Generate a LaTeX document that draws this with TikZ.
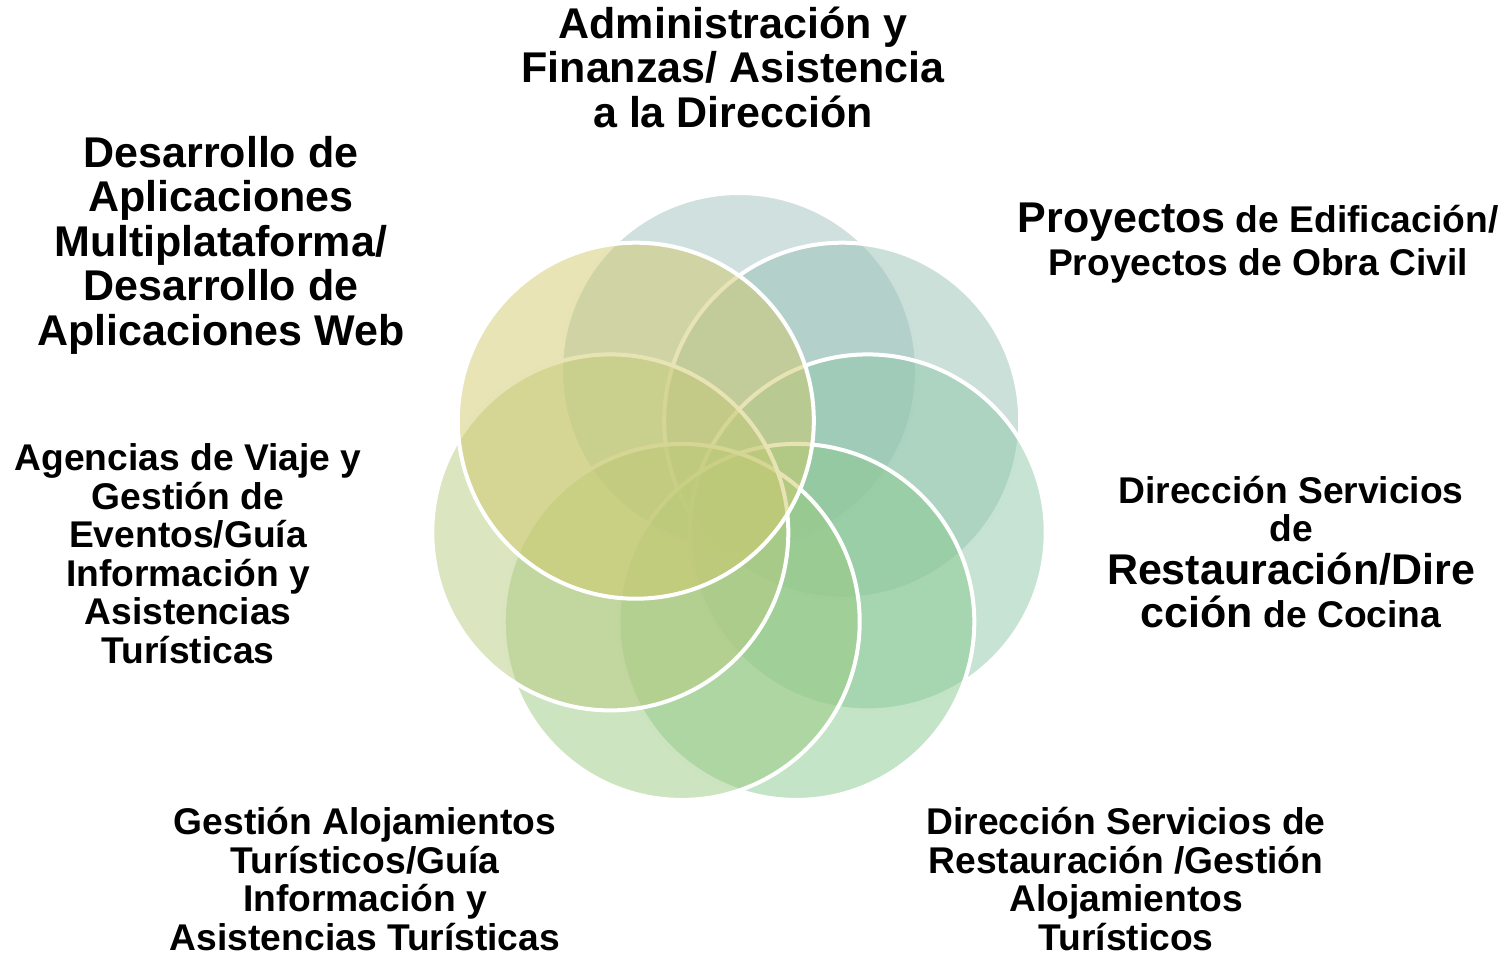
\documentclass[tikz,border=0pt]{standalone}
\usepackage{fontspec}
\setmainfont{Liberation Sans}

\definecolor{ring0}{HTML}{A1C1BF}
\definecolor{ring1}{HTML}{99C1B5}
\definecolor{ring2}{HTML}{8FC7A9}
\definecolor{ring3}{HTML}{87C98D}
\definecolor{ring4}{HTML}{9BC981}
\definecolor{ring5}{HTML}{B7CB7F}
\definecolor{ring6}{HTML}{D1C96B}

\tikzset{
    petal/.style={circle, minimum size=356pt, inner sep=0pt, draw=white, line width=4pt, fill opacity=0.5},
    bigtext/.style={align=center, font=\bfseries\fontsize{43}{44.5}\selectfont},
    smalltext/.style={align=center, font=\bfseries\fontsize{37.2}{38.5}\selectfont}
}
\newcommand{\bigword}[1]{{\fontsize{43}{44.5}\selectfont #1}}

\begin{document}
\begin{tikzpicture}[x=1pt, y=-1pt]
        \useasboundingbox (0, 0) rectangle (1503, 958);

        \node[petal, fill=ring0] (0) at (739, 371) {};
        \node[petal, fill=ring1] (1) at (842.2, 420.7) {};
        \node[petal, fill=ring2] (2) at (867.7, 532.4) {};
        \node[petal, fill=ring3] (3) at (796.3, 621.9) {};
        \node[petal, fill=ring4] (4) at (681.7, 621.9) {};
        \node[petal, fill=ring5] (5) at (610.3, 532.4) {};
        \node[petal, fill=ring6] (6) at (635.8, 420.7) {};

        \node[bigtext] (l0) at (733, 67) {Administración y\\Finanzas/ Asistencia\\a la Dirección};
        \node[smalltext] (l1) at (1258, 243.5) {\bigword{Proyectos} de Edificación/\\[4.5pt]Proyectos de Obra Civil};
        \node[smalltext] (l2) at (1291, 552) {Dirección Servicios\\de\\[4.5pt]\bigword{Restauración/Dire}\\[4.5pt]\bigword{cción} de Cocina};
        \node[smalltext] (l3) at (1126, 879) {Dirección Servicios de\\Restauración /Gestión\\Alojamientos\\Turísticos};
        \node[smalltext] (l4) at (365, 879) {Gestión Alojamientos\\Turísticos/Guía\\Información y\\Asistencias Turísticas};
        \node[smalltext] (l5) at (188, 553.8) {Agencias de Viaje y\\Gestión de\\Eventos/Guía\\Información y\\Asistencias\\Turísticas};
        \node[bigtext] (l6) at (221, 245) {Desarrollo de\\Aplicaciones\\Multiplataforma/\\Desarrollo de\\Aplicaciones Web};
    \end{tikzpicture}
\end{document}
